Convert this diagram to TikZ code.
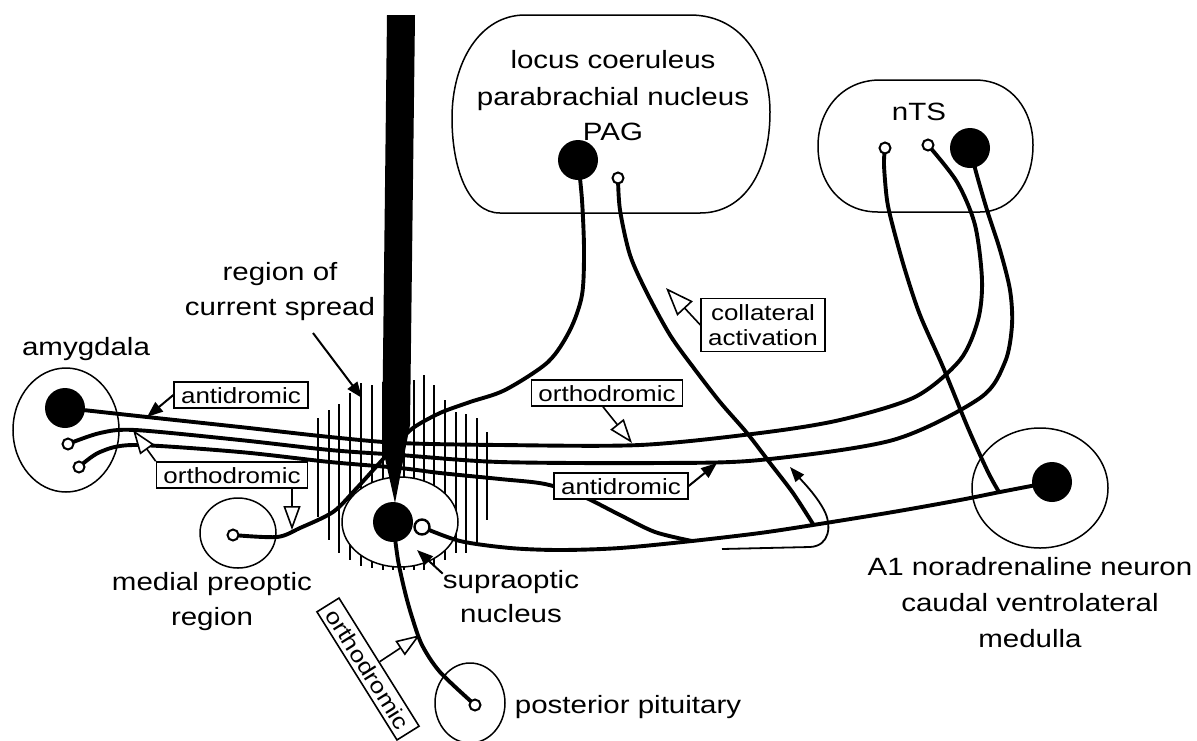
\documentclass[tikz,border=0pt]{standalone}
\usepackage{fontspec}
\setmainfont{Liberation Sans}[FakeStretch=1.18]
\usetikzlibrary{arrows.meta,shapes.geometric}
\begin{document}
\begin{tikzpicture}[x=1pt,y=-1pt,
  axon/.style={line width=3.9pt, line cap=round, line join=round},
  regionline/.style={draw, line width=1.5pt},
  region/.style={draw, ellipse, line width=1.5pt, inner sep=0pt},
  hatchline/.style={line width=2.8pt},
  soma/.style={circle, fill=black, inner sep=0pt, minimum size=40pt},
  term/.style={circle, draw, fill=white, line width=2pt, inner sep=0pt, minimum size=11pt},
  lbl/.style={font=\fontsize{25}{30}\selectfont, inner sep=0pt},
  tag/.style={draw, fill=white, line width=1.6pt, font=\fontsize{22}{25}\selectfont, inner xsep=7pt, inner ysep=5pt, text height=16pt, text depth=0pt},
  tagtwo/.style={draw, fill=white, line width=1.6pt, font=\fontsize{22}{25}\selectfont, inner xsep=7pt, inner ysep=6pt, align=center},
  fillarrow/.style={line width=2pt, -{Triangle[length=16pt, width=12pt]}},
  openarrow/.style={line width=1.6pt, -{Triangle[length=24pt, width=17pt, fill=white]}},
]
\useasboundingbox (0,0) rectangle (1197,740);
\fill[white] (0,0) rectangle (1197,740);

% ---------- key points ----------
\coordinate (amyS) at (65,408);
\coordinate (amyT1) at (68,444);
\coordinate (amyT2) at (79,467);
\coordinate (lcS) at (578,160);
\coordinate (lcT) at (618,178);
\coordinate (ntsS) at (970,148);
\coordinate (ntsT1) at (885,148);
\coordinate (ntsT2) at (928,145);
\coordinate (a1S) at (1052,482);
\coordinate (sonS) at (393,522);
\coordinate (sonT) at (422,527);
\coordinate (mpoT) at (233,535);
\coordinate (ppT) at (475,705);
\coordinate (jLC) at (813,524);
\coordinate (jNTS) at (999,492);
\coordinate (merge) at (692,541);

% ---------- regions ----------
\node[region, minimum width=106pt, minimum height=124pt] (amyR) at (66,430) {};
\node[region, minimum width=76pt, minimum height=70pt] (mpoR) at (238,533) {};
\node[region, minimum width=70pt, minimum height=80pt] (ppR) at (470,703) {};
\node[region, minimum width=136pt, minimum height=120pt] (a1R) at (1040,488) {};
\draw[regionline] (525,15) -- (690,15) .. controls (745,15) and (770,65) .. (770,112)
  .. controls (770,170) and (745,213) .. (700,213) -- (500,213)
  .. controls (468,213) and (452,168) .. (452,118) .. controls (452,62) and (480,15) .. (525,15);
\draw[regionline] (880,80) -- (975,80) .. controls (1013,80) and (1033,112) .. (1033,145)
  .. controls (1033,185) and (1010,212) .. (980,212) -- (878,212)
  .. controls (840,212) and (818,182) .. (818,146) .. controls (818,110) and (842,80) .. (880,80);

% ---------- region of current spread ----------
\foreach \x/\a/\b in {318/418/517, 329/410/540, 339/404/553, 350/393/560, 361/383/566,
  372/385/568, 383/382/570, 393/380/570, 404/380/570, 414/380/570, 424/375/570,
  434/385/566, 445/400/560, 456/412/553, 466/414/553, 477/418/545, 487/432/520}
  \draw[hatchline] (\x,\a) -- (\x,\b);
\node[region, fill=white, minimum width=116pt, minimum height=90pt] (sonR) at (400,522) {};

% ---------- axons ----------
\draw[axon] plot[smooth, tension=0.5] coordinates {(amyS) (147,417) (240,427) (330,437) (400,443)
  (500,445) (640,445) (760,433) (840,420) (915,397) (960,360) (978,320) (982,280) (975,225) (957,182) (ntsT2)};
\draw[axon] plot[smooth, tension=0.5] coordinates {(ntsS) (976,172) (987,210) (1000,250) (1010,290)
  (1012,325) (1005,362) (980,398) (893,440) (760,460) (660,463) (500,462) (400,455) (330,450)
  (240,440) (135,430) (100,433) (amyT1)};
\draw[axon] plot[smooth, tension=0.5] coordinates {(a1S) (1000,492) (960,500) (893,512) (813,525)
  (760,533) (692,541) (620,548) (560,550) (510,548) (460,541) (sonT)};
\draw[axon] plot[smooth, tension=0.5] coordinates {(merge) (655,532) (620,515) (582,496) (545,484)
  (500,479) (440,473) (400,468) (330,462) (240,452) (135,445) (100,452) (amyT2)};
\draw[axon] plot[smooth, tension=0.5] coordinates {(lcS) (582,200) (584,250) (582,295) (570,330)
  (548,362) (505,390) (470,402) (440,413) (413,428) (395,446) (375,468) (355,490) (333,512)
  (300,528) (277,537) (mpoT)};
\draw[axon] plot[smooth, tension=0.5] coordinates {(lcT) (620,210) (630,255) (647,293) (670,335)
  (693,367) (720,402) (747,433) (770,463) (793,493) (jLC)};
\draw[axon] plot[smooth, tension=0.5] coordinates {(ntsT1) (884,165) (887,200) (893,227) (905,270)
  (920,315) (943,367) (968,428) (988,472) (jNTS)};
\draw[axon] plot[smooth, tension=0.5] coordinates {(sonS) (398,560) (405,592) (412,617) (422,645)
  (440,672) (ppT)};

% ---------- electrode ----------
\fill (387,15) -- (415,15) -- (410,425) -- (395,503) -- (382,445) -- cycle;

% ---------- cells ----------
\node[soma] (amySoma) at (amyS) {};
\node[term] (amyTerm1) at (amyT1) {};
\node[term] (amyTerm2) at (amyT2) {};
\node[soma] (lcSoma) at (lcS) {};
\node[term] (lcTerm) at (lcT) {};
\node[soma] (ntsSoma) at (ntsS) {};
\node[term] (ntsTerm1) at (ntsT1) {};
\node[term] (ntsTerm2) at (ntsT2) {};
\node[soma] (a1Soma) at (a1S) {};
\node[soma] (sonSoma) at (sonS) {};
\node[term, minimum size=15pt, line width=2.4pt] (sonTerm) at (sonT) {};
\node[term] (mpoTerm) at (mpoT) {};
\node[term] (ppTerm) at (ppT) {};

% ---------- labels ----------
\node[lbl, anchor=base] (amyL) at (86,355) {amygdala};
\node[lbl, anchor=base] (rcs1) at (280,280) {region of};
\node[lbl, anchor=base] (rcs2) at (280,315) {current spread};
\node[lbl, anchor=base] (lc1) at (613,68) {locus coeruleus};
\node[lbl, anchor=base] (lc2) at (613,105) {parabrachial nucleus};
\node[lbl, anchor=base] (lc3) at (613,140) {PAG};
\node[lbl, anchor=base] (ntsL) at (919,120) {nTS};
\node[lbl, anchor=base] (mpo1) at (212,590) {medial preoptic};
\node[lbl, anchor=base] (mpo2) at (212,625) {region};
\node[lbl, anchor=base] (son1) at (511,588) {supraoptic};
\node[lbl, anchor=base] (son2) at (511,622) {nucleus};
\node[lbl, anchor=base] (ppL) at (628,713) {posterior pituitary};
\node[lbl, anchor=base] (a1L1) at (1030,575) {A1 noradrenaline neuron};
\node[lbl, anchor=base] (a1L2) at (1030,611) {caudal ventrolateral};
\node[lbl, anchor=base] (a1L3) at (1030,647) {medulla};

% ---------- tags ----------
\node[tag] (anti1) at (241,395) {antidromic};
\node[tag] (ortho1) at (232,475) {orthodromic};
\node[tag] (ortho2) at (607,393) {orthodromic};
\node[tag] (anti2) at (621,486) {antidromic};
\node[tagtwo] (coll) at (763,325) {collateral\\activation};
\node[tag, rotate=-58] (ortho3) at (368,669) {orthodromic};

% ---------- arrows ----------
\coordinate (rcsStart) at (313,333);
\coordinate (rcsTip) at (362,398);
\coordinate (sonTip) at (417,550);
\coordinate (at1) at (147,417);
\coordinate (ot1) at (133,430);
\coordinate (ot2) at (292,530);
\coordinate (ot3) at (632,443);
\coordinate (at2) at (717,463);
\coordinate (ct) at (666,288);
\coordinate (ot4) at (420,635);
\coordinate (uStart) at (722,549);
\coordinate (uTip) at (790,467);

\draw[fillarrow] (rcsStart) -- (rcsTip);
\draw[fillarrow] ([yshift=-4pt]son1.north west) -- (sonTip);
\draw[fillarrow] (anti1.west) -- (at1);
\draw[openarrow] (ortho1.north west) -- (ot1);
\draw[openarrow] (ortho1.south -| ot2) -- (ot2);
\draw[openarrow] ([xshift=-4pt]ortho2.south) -- (ot3);
\draw[fillarrow] (anti2.east) -- (at2);
\draw[openarrow, -{Triangle[length=28pt, width=21pt, fill=white]}] (coll.west) -- (ct);
\draw[openarrow] (ortho3.north) -- (ot4);
\draw[line width=1.8pt, -{Triangle[length=15pt, width=11pt]}] (uStart) -- (810,547)
  .. controls (830,546) and (832,525) .. (824,510) .. controls (816,495) and (803,482) .. (uTip);
\end{tikzpicture}
\end{document}
